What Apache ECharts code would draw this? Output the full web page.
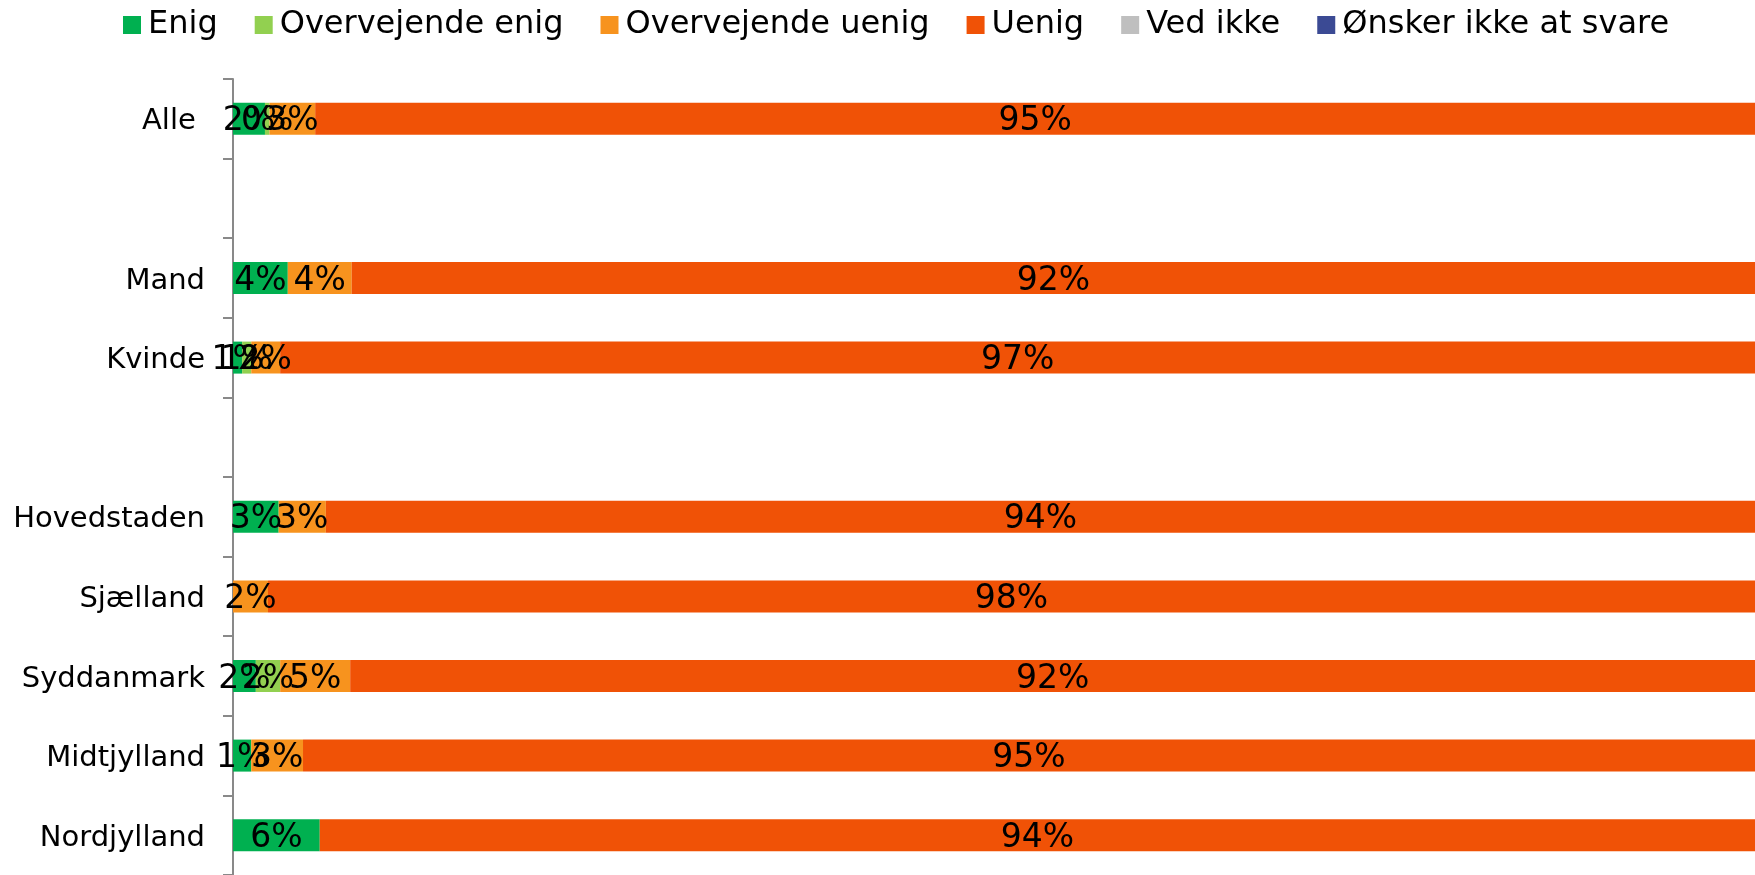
<!DOCTYPE html>
<html>
<head>
<meta charset="utf-8">
<title>Enig / Uenig</title>
<script src="https://cdn.jsdelivr.net/npm/echarts@6/dist/echarts.min.js"></script>
<style>
  html, body { margin: 0; padding: 0; background: #fff; }
  #chart { width: 1755px; height: 875px; }
</style>
</head>
<body>
<div id="chart"></div>
<script>
// kategorier (tomme pladser giver luft mellem grupperne)
var categories = ['Alle ', '', 'Mand', 'Kvinde', ' ', 'Hovedstaden', 'Sjælland', 'Syddanmark', 'Midtjylland', 'Nordjylland']

var enig = [2.1, null, 3.6, 0.6, null, 3.0, 0, 1.5, 1.2, 5.7]
var overvejendeEnig = [0.3, null, 0, 0.6, null, 0, 0, 1.6, 0, 0]
var overvejendeUenig = [3.0, null, 4.2, 1.9, null, 3.1, 2.3, 4.6, 3.4, 0]
var uenig = [94.6, null, 92.2, 96.9, null, 93.9, 97.7, 92.3, 95.4, 94.3]
var vedIkke = [0, null, 0, 0, null, 0, 0, 0, 0, 0]
var oenskerIkke = [0, null, 0, 0, null, 0, 0, 0, 0, 0]

var font = 'DejaVu Sans'

function bar(name, data, color) {
  return {
    name: name,
    type: 'bar',
    stack: 'total',
    barWidth: 32,
    data: data,
    itemStyle: { color: color },
    label: {
      show: true,
      position: 'inside',
      offset: [0, 3],
      color: '#000',
      fontSize: 33,
      fontFamily: font,
      formatter: function (p) {
        if (!p.value) return '' // ingen label for 0
        return Math.round(p.value) + '%'
      }
    }
  }
}

var chart = echarts.init(document.getElementById('chart'))
chart.setOption({
  animation: false,
  textStyle: { fontFamily: font },
  legend: {
    left: 118,
    top: 4,
    itemWidth: 18,
    itemHeight: 18,
    itemGap: 37,
    icon: 'rect',
    textStyle: {
      fontSize: 32,
      lineHeight: 32,
      color: '#000',
      fontFamily: font,
      padding: [0, 0, 0, 2]
    }
  },
  grid: {
    left: 233,
    right: 0,
    top: 79,
    height: 799
  },
  xAxis: {
    type: 'value',
    min: 0,
    max: 100,
    show: false
  },
  yAxis: {
    type: 'category',
    inverse: true,
    data: categories,
    axisLine: {
      lineStyle: { color: '#898989', width: 2 }
    },
    axisTick: {
      show: true,
      length: 10,
      interval: 0,
      lineStyle: { color: '#898989', width: 2 }
    },
    axisLabel: {
      interval: 0,
      margin: 28,
      color: '#000',
      formatter: function (v) {
        return '{c|' + v + '}'
      },
      rich: {
        c: {
          fontSize: 29,
          color: '#000',
          fontFamily: font,
          padding: [6, 0, 0, 0]
        }
      }
    }
  },
  series: [
    bar('Enig', enig, '#00b050'),
    bar('Overvejende enig', overvejendeEnig, '#92d050'),
    bar('Overvejende uenig', overvejendeUenig, '#f7931e'),
    bar('Uenig', uenig, '#f05206'),
    bar('Ved ikke', vedIkke, '#bfbfbf'),
    bar('Ønsker ikke at svare', oenskerIkke, '#3b4a94')
  ]
})
</script>
</body>
</html>
